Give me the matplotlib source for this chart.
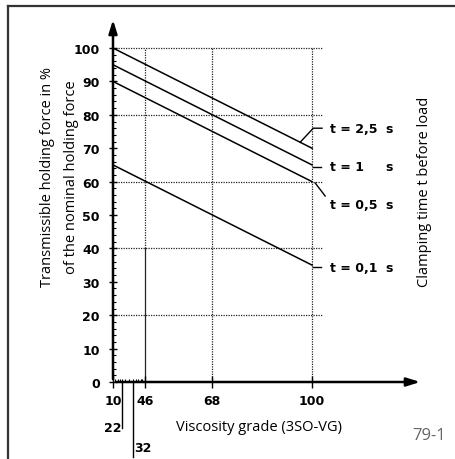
import numpy as np
import matplotlib
matplotlib.use("Agg")
import matplotlib.pyplot as plt
from matplotlib.lines import Line2D

# Viscosity grade (ISO-VG) vs. transmissible holding force
grade_ends = [10, 100]
force_t25 = [100, 70]
force_t1 = [95, 65]
force_t05 = [90, 60]
force_t01 = [65, 35]
curve_labels = ["t = 2,5", "t = 1", "t = 0,5", "t = 0,1"]
curve_label_y = [76, 64.4, 53.3, 34.4]

x_ticks = [10, 46, 68, 100]
x_extra = [22, 32]
y_ticks = list(range(0, 101, 10))
grid_y = [20, 40, 60, 80, 100]
grid_x = [46, 68, 100]

# piecewise axis: grades are spaced unevenly on the chart
XK = np.array([10, 22, 32, 46, 68, 100, 140.0])
TK = np.array([0, 9, 20, 32, 99, 199, 324.0])


def fwd(x):
    return np.interp(x, XK, TK)


def inv(t):
    return np.interp(t, TK, XK)


W, H = 456, 460
fig = plt.figure(figsize=(W / 100, H / 100), dpi=100)
ax = fig.add_axes([113 / W, (H - 383) / H, 310 / W, 365 / H])
ax.set_xscale("function", functions=(fwd, inv))
ax.set_xlim(10, 135.5)
ax.set_ylim(0, 109.3)
for s in ax.spines.values():
    s.set_visible(False)

tick_font = dict(family=["Liberation Sans Narrow", "DejaVu Sans"], weight="bold", size=9)
lab_font = dict(family=["Open Sans", "DejaVu Sans"], size=10.5)

# grid
gkw = dict(color="#222222", lw=0.9, ls=(0, (1, 1)), zorder=1)
for gy in grid_y:
    ax.plot([10, 103.2], [gy, gy], **gkw)
ax.plot([46, 46], [40, 100], **gkw)
ax.plot([46, 46], [0, 40], color="#222222", lw=0.9, zorder=1)
ax.plot([68, 68], [0, 100], **gkw)
ax.plot([100, 100], [0, 100], **gkw)

# curves
for ys in (force_t25, force_t1, force_t05, force_t01):
    ax.plot(grade_ends, ys, color="black", lw=1.1, zorder=3)

# leader lines to the curve labels
lkw = dict(color="black", lw=1.0, zorder=3, clip_on=False)
ax.plot([96.2, 100.4, 103.2], [71.8, 76, 76], **lkw)
ax.plot([100.3, 103.0], [64.4, 64.4], **lkw)
ax.plot([101.0, 104.2], [59.6, 55.7], **lkw)
ax.plot([100.3, 103.0], [34.4, 34.4], **lkw)
lbl_font = dict(family=["DejaVu Sans"], weight="bold", size=9)
for txt, yy in zip(curve_labels, curve_label_y):
    ax.text(105.8, yy, txt, ha="left", va="center", **lbl_font)
    ax.text(123.4, yy, "s", ha="left", va="center", **lbl_font)

# axes with arrows
ax.annotate("", xy=(10, 109.3), xytext=(10, 0),
            arrowprops=dict(arrowstyle="-|>,head_length=0.8,head_width=0.25",
                            color="black", lw=1.8), annotation_clip=False)
ax.annotate("", xy=(135.5, 0), xytext=(10, 0),
            arrowprops=dict(arrowstyle="-|>,head_length=0.8,head_width=0.25",
                            color="black", lw=1.8), annotation_clip=False)

# ticks
ax.set_yticks(y_ticks)
ax.set_yticklabels([str(v) for v in y_ticks], **tick_font)
ax.set_yticks(np.arange(0, 101, 2), minor=True)
ax.tick_params(axis="y", which="major", direction="inout", length=6, width=1, pad=6.5)
ax.tick_params(axis="y", which="minor", direction="in", length=2, width=0.8)
ax.set_xticks(x_ticks)
ax.set_xticklabels([str(v) for v in x_ticks], **tick_font)
ax.set_xticks([13, 16, 19, 22, 25, 28, 32, 35, 38, 41, 43], minor=True)
ax.tick_params(axis="x", which="major", direction="inout", length=8, width=1, pad=5)
ax.tick_params(axis="x", which="minor", direction="in", length=2, width=0.8)

# extra grade marks below the axis
ax.plot([22, 22], [0, -13.8], color="black", lw=1.0, clip_on=False)
ax.plot([32, 32], [0, -22.5], color="black", lw=1.0, clip_on=False)
ax.text(21.2, -13.5, "22", ha="right", va="center", **tick_font)
ax.text(33.0, -19.5, "32", ha="left", va="center", **tick_font)

# axis titles
fig.text(259 / W, 1 - 428 / H, "Viscosity grade (3SO-VG)", ha="center", va="center", **lab_font)
fig.text(48 / W, 1 - 177 / H, "Transmissible holding force in %", rotation=90,
         ha="center", va="center", **lab_font)
fig.text(72 / W, 1 - 177 / H, "of the nominal holding force", rotation=90,
         ha="center", va="center", **lab_font)
fig.text(425 / W, 1 - 192 / H, "Clamping time t before load", rotation=90,
         ha="center", va="center", **lab_font)
fig.text(429 / W, 1 - 436 / H, "79-1", ha="center", va="center", color="#666666",
         family=["Open Sans", "DejaVu Sans"], size=12)

# frame
fig.add_artist(Line2D([8 / W, 8 / W], [0, 1 - 7 / H], color="#333333", lw=1.6))
fig.add_artist(Line2D([8 / W, 1], [1 - 7 / H, 1 - 7 / H], color="#333333", lw=1.6))

fig.savefig("out.png", dpi=100)
